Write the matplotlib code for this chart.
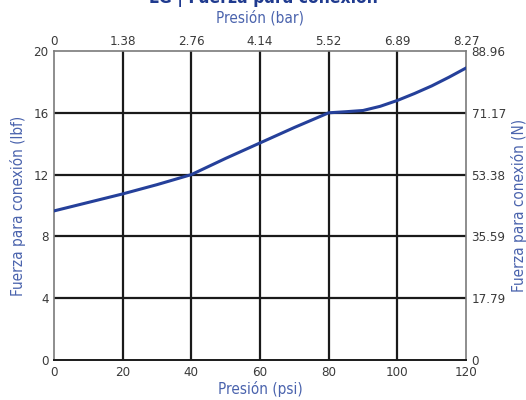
import matplotlib.pyplot as plt

psi = [0, 10, 20, 30, 40, 50, 60, 70, 80, 85, 90, 95, 100, 105, 110, 115, 120]
lbf = [9.65, 10.2, 10.75, 11.35, 12.0, 13.05, 14.05, 15.05, 16.0, 16.07, 16.15, 16.42, 16.8, 17.25, 17.74, 18.3, 18.9]

psi_ticks = [0, 20, 40, 60, 80, 100, 120]
bar_labels = ["0", "1.38", "2.76", "4.14", "5.52", "6.89", "8.27"]
lbf_ticks = [0, 4, 8, 12, 16, 20]
n_labels = ["0", "17.79", "35.59", "53.38", "71.17", "88.96"]

plt.rcParams['font.family'] = ['DejaVu Sans']
plt.rcParams['font.stretch'] = 'condensed'
tick_col = '#3a3a3a'
lab_col = '#4a63ad'
line_col = '#25409a'

fig = plt.figure(figsize=(5.26, 4), dpi=100)
ax = fig.add_axes([0.1027, 0.1, 0.7833, 0.7725])

for v in psi_ticks[1:-1]:
    ax.axvline(v, color='#1a1a1a', lw=1.6, zorder=1)
for v in lbf_ticks[1:-1]:
    ax.axhline(v, color='#1a1a1a', lw=1.6, zorder=1)

ax.plot(psi, lbf, color=line_col, lw=2.2, zorder=3)

ax.set_xlim(0, 120)
ax.set_ylim(0, 20)
ax.set_xticks(psi_ticks)
ax.set_yticks(lbf_ticks)
ax.tick_params(length=0, labelsize=9.5, colors=tick_col, pad=4)
for s in ['left', 'top', 'right']:
    ax.spines[s].set_color('#7a7a7a')
    ax.spines[s].set_linewidth(1.2)
ax.spines['bottom'].set_color('#1a1a1a')
ax.spines['bottom'].set_linewidth(1.4)

ax.set_xlabel("Presión (psi)", color=lab_col, fontsize=11, labelpad=2)
ax.set_ylabel("Fuerza para conexión (lbf)", color=lab_col, fontsize=11, labelpad=5)

axt = ax.twiny()
axt.set_xlim(ax.get_xlim())
axt.set_xticks(psi_ticks)
axt.set_xticklabels(bar_labels)
axt.tick_params(length=0, labelsize=9.5, colors=tick_col, pad=2)
axt.set_xlabel("Presión (bar)", color=lab_col, fontsize=11, labelpad=9)

axr = ax.twinx()
axr.set_ylim(ax.get_ylim())
axr.set_yticks(lbf_ticks)
axr.set_yticklabels(n_labels)
axr.tick_params(length=0, labelsize=9.5, colors=tick_col, pad=4)
axr.set_ylabel("Fuerza para conexión (N)", color=lab_col, fontsize=11, labelpad=4)
for a in [axt, axr]:
    for s in a.spines.values():
        s.set_visible(False)

fig.text(0.5, 0.993, "LG | Fuerza para conexión", ha='center', va='baseline',
         fontsize=12.5, fontweight='bold', color='#1f3a8f')

fig.savefig("out.png", dpi=100)
